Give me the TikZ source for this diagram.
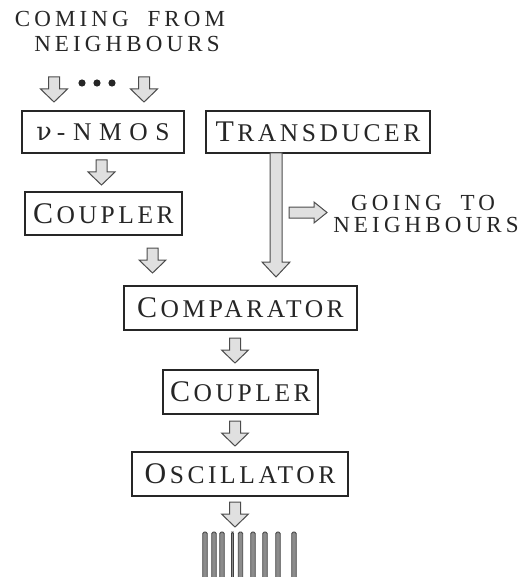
\documentclass[tikz,border=0pt]{standalone}
\usepackage{fontspec}
\setmainfont{Liberation Serif}
\newfontfamily\grkfont{DejaVu Serif}
\newfontfamily\spcbox{Liberation Serif}[LetterSpace=14]
\newfontfamily\spcwide{Liberation Serif}[LetterSpace=30]
\newfontfamily\spctitle{Liberation Serif}[LetterSpace=18, WordSpace=1.9]
\tikzset{
  box/.style={draw=black!85, line width=2.4pt, inner sep=0pt, text=black!85},
  arr/.style={draw=black!70, fill=black!12, line width=1pt, line join=miter},
  bar/.style={draw=black!75, fill=black!45, line width=0.8pt, rounded corners=1.5pt},
  lbl/.style={text=black!85, inner sep=0pt},
  dnarr/.pic={\draw[arr] (-5.5,0) -- (5.5,0) -- (5.5,12) -- (13.5,12) -- (0,25) -- (-13.5,12) -- (-5.5,12) -- cycle;}
}
\newcommand\scw[2]{{\spcbox\fontsize{30}{30}\selectfont #1\kern3.5pt\fontsize{25.5}{25.5}\selectfont #2}}
\newcommand\capw[1]{{\spctitle\fontsize{23}{23}\selectfont #1}}
\begin{document}
\begin{tikzpicture}[x=1pt,y=-1pt]
\useasboundingbox (0,0) rectangle (521,577);
% titles
\node[lbl] (title1) at (120,19) {\capw{COMING FROM}};
\node[lbl] (title2) at (127,44) {\capw{NEIGHBOURS}};
\pic at (54,77) {dnarr};
\pic at (144,77) {dnarr};
\foreach \x in {82,97,112} \fill[black!85] (\x,83) circle (3.6);
% boxes
\node[box, minimum width=162, minimum height=42] (nmos) at (103,132)
  {{\spcwide\fontsize{25.5}{25.5}\selectfont{\grkfont ν}\kern5pt-NMOS}};
\node[box, minimum width=224, minimum height=42] (trans) at (318,132) {\scw{T}{RANSDUCER}};
\node[box, minimum width=157, minimum height=43] (coup1) at (103.5,213.5) {\scw{C}{OUPLER}};
\node[box, minimum width=233, minimum height=44] (comp) at (240.5,308) {\scw{C}{OMPARATOR}};
\node[box, minimum width=155, minimum height=44] (coup2) at (240.5,392) {\scw{C}{OUPLER}};
\node[box, minimum width=216, minimum height=44] (osc) at (240,474) {\scw{O}{SCILLATOR}};
% arrows
\pic at (101.5,160) {dnarr};
\pic at (152.5,248) {dnarr};
\pic at (235,338) {dnarr};
\pic at (235,421) {dnarr};
\pic at (235,502) {dnarr};
% long arrow from transducer to comparator
\draw[arr] (270,153) -- (282,153) -- (282,262) -- (290,262) -- (276,277) -- (262,262) -- (270,262) -- cycle;
% going to neighbours
\draw[arr] (289,207) -- (314,207) -- (314,202) -- (327,212.5) -- (314,223) -- (314,218) -- (289,218) -- cycle;
\node[lbl] (going1) at (423,203) {\capw{GOING TO}};
\node[lbl] (going2) at (426,225) {\capw{NEIGHBOURS}};
% output bars
\foreach \x/\w in {205/2.2,214/2.2,222/2.2,232.5/1,240.5/2.2,253/2.2,265/2.2,278/2.2,294/2.2}
  \draw[bar] (\x-\w,580) -- (\x-\w,532) -- (\x+\w,532) -- (\x+\w,580);
\end{tikzpicture}
\end{document}
